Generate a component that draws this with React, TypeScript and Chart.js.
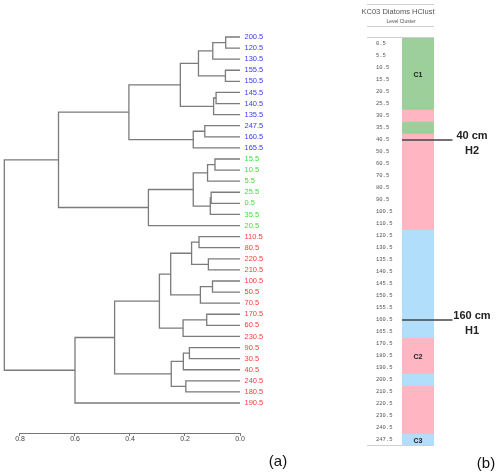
import { useEffect, useRef } from 'react';
import { Chart, registerables } from 'chart.js';

Chart.register(...registerables);

// ---- Dendrogram (a) ----
const leafLabels = ['200.5', '120.5', '130.5', '155.5', '150.5', '145.5', '140.5', '135.5', '247.5', '160.5', '165.5',
  '15.5', '10.5', '5.5', '25.5', '0.5', '35.5', '20.5',
  '110.5', '80.5', '220.5', '210.5', '100.5', '50.5', '70.5', '170.5', '60.5', '230.5', '90.5', '30.5', '40.5', '240.5', '180.5', '190.5'];
// cluster of each leaf: 1 = C1 (green), 2 = C2 (red/pink), 3 = C3 (blue)
const leafCluster = [3, 3, 3, 3, 3, 3, 3, 3, 3, 3, 3,
  1, 1, 1, 1, 1, 1, 1,
  2, 2, 2, 2, 2, 2, 2, 2, 2, 2, 2, 2, 2, 2, 2, 2];
// hclust-style merge table: negative = leaf (1-based position in leafLabels), positive = earlier merge (1-based)
const mergeLeft = [-1, 1, -4, 2, -6, 5, 4, -9, 8, 7, -12, 11, -15, 13, 12, 15, 10, -19, -21, 18, -23, 21, 20, -26, 24, 23, -29, 27, -32, 28, 26, 31, 17];
const mergeRight = [-2, -3, -5, 3, -7, -8, 6, -10, -11, 9, -13, -14, -16, -17, 14, -18, 16, -20, -22, 19, -24, -25, 22, -27, -28, 25, -30, -31, -33, 29, 30, -34, 32];
const mergeHeight = [0.052, 0.099, 0.053, 0.151, 0.087, 0.096, 0.217, 0.128, 0.170, 0.404, 0.091, 0.118, 0.105, 0.108, 0.170, 0.333, 0.660,
  0.149, 0.115, 0.176, 0.100, 0.144, 0.252, 0.121, 0.207, 0.293, 0.184, 0.206, 0.197, 0.250, 0.456, 0.600, 0.857];
const heightTicks = [0, 0.2, 0.4, 0.6, 0.8];

// ---- Cluster column (b) ----
const depthLabels = ['0.5', '5.5', '10.5', '15.5', '20.5', '25.5', '30.5', '35.5', '40.5', '50.5', '60.5', '70.5', '80.5', '90.5',
  '100.5', '110.5', '120.5', '130.5', '135.5', '140.5', '145.5', '150.5', '155.5', '160.5', '165.5', '170.5', '180.5', '190.5',
  '200.5', '210.5', '220.5', '230.5', '240.5', '247.5'];
const clusterNames = ['C1', 'C2', 'C3'];
const clusterLabelFrom = ['0.5', '170.5', '247.5'];
const clusterLabelTo = ['25.5', '190.5', '247.5'];
const markerDepths = ['40.5', '160.5'];
const markerTexts = ['40 cm', '160 cm'];
const markerCodes = ['H2', 'H1'];
const panelTitle = 'KC03 Diatoms HClust';
const panelSubtitle = 'Level Cluster';

const labelColor: Record<number, string> = { 1: '#3ddf3d', 2: '#ff3b3b', 3: '#3b3bff' };
const fillColor: Record<number, string> = { 1: '#9dcf9b', 2: '#ffb5c2', 3: '#b1dffb' };

function buildSegments() {
  const mid: number[] = [];
  const pos = (id: number) => (id < 0 ? { x: 0, y: -id - 1 } : { x: mergeHeight[id - 1], y: mid[id - 1] });
  const segs: { x: number; y: number }[][] = [];
  for (let i = 0; i < mergeHeight.length; i++) {
    const a = pos(mergeLeft[i]);
    const b = pos(mergeRight[i]);
    const h = mergeHeight[i];
    mid.push((a.y + b.y) / 2);
    segs.push([
      { x: a.x, y: a.y },
      { x: h, y: a.y },
      { x: h, y: b.y },
      { x: b.x, y: b.y },
    ]);
  }
  return segs;
}

function clusterOfDepth(d: string) {
  const i = leafLabels.indexOf(d);
  return i >= 0 ? leafCluster[i] : 2;
}

export default function App() {
  const leftRef = useRef<HTMLCanvasElement>(null);
  const rightRef = useRef<HTMLCanvasElement>(null);

  useEffect(() => {
    const axisLine = {
      id: 'axisLine',
      afterDraw(chart: any) {
        const xs = chart.scales.x;
        const ctx = chart.ctx;
        const y = chart.chartArea.bottom + 0.5;
        ctx.save();
        ctx.strokeStyle = '#777';
        ctx.lineWidth = 1;
        ctx.beginPath();
        ctx.moveTo(xs.getPixelForValue(heightTicks[heightTicks.length - 1]), y);
        ctx.lineTo(xs.getPixelForValue(heightTicks[0]), y);
        ctx.stroke();
        ctx.restore();
      },
    };

    const segs = buildSegments();
    const left = new Chart(leftRef.current!, {
      type: 'scatter',
      data: {
        datasets: segs.map((pts) => ({
          data: pts,
          showLine: true,
          borderColor: '#7b7b7b',
          borderWidth: 1.3,
          pointRadius: 0,
          pointHoverRadius: 0,
          tension: 0,
          fill: false,
          clip: false as any,
        })),
      },
      options: {
        responsive: false,
        animation: false,
        events: [],
        layout: { padding: { top: 10, left: 0, right: 0, bottom: 27 } },
        plugins: { legend: { display: false }, tooltip: { enabled: false } },
        scales: {
          x: {
            type: 'linear',
            reverse: true,
            min: 0,
            max: 0.8727,
            bounds: 'data',
            grid: { display: true, drawOnChartArea: false, drawTicks: true, tickLength: 3, color: '#777', lineWidth: 1 },
            border: { display: false },
            ticks: {
              font: { family: 'Liberation Sans', size: 7 },
              color: '#444',
              padding: -1,
              maxRotation: 0,
              autoSkip: false,
              callback: (v: any) => Number(v).toFixed(1),
            },
            afterBuildTicks: (s: any) => {
              s.ticks = heightTicks.map((v) => ({ value: v }));
            },
            afterFit: (s: any) => {
              s.height = 14;
            },
          },
          y: {
            type: 'linear',
            position: 'right',
            reverse: true,
            min: -2.434,
            max: 35.705,
            bounds: 'data',
            grid: { display: false, drawTicks: false, tickLength: 0 },
            border: { display: false },
            ticks: {
              autoSkip: false,
              padding: 4.5,
              font: { family: 'Liberation Sans', size: 7.5 },
              color: (c: any) => (c.tick ? labelColor[leafCluster[Math.round(c.tick.value)]] || '#000' : '#000'),
              callback: (v: any) => leafLabels[Math.round(Number(v))] ?? '',
            },
            afterBuildTicks: (s: any) => {
              s.ticks = leafLabels.map((_, i) => ({ value: i }));
            },
            afterFit: (s: any) => {
              s.width = 40;
            },
          },
        },
      } as any,
      plugins: [axisLine],
    });

    const panel = {
      id: 'panelDeco',
      afterDraw(chart: any) {
        const ctx = chart.ctx;
        const ys = chart.scales.y;
        const area = chart.chartArea;
        ctx.save();
        // table rules
        ctx.strokeStyle = '#cfcfcf';
        ctx.lineWidth = 1;
        const rules = [4.5, 26.5, area.top - 0.5, area.bottom - 0.5];
        rules.forEach((y) => {
          ctx.beginPath();
          ctx.moveTo(37, y);
          ctx.lineTo(area.right, y);
          ctx.stroke();
        });
        // title
        ctx.fillStyle = '#555';
        ctx.textAlign = 'center';
        ctx.textBaseline = 'middle';
        ctx.font = '7.5px "Liberation Sans"';
        ctx.fillText(panelTitle, 68, 12);
        ctx.font = '5px "Liberation Sans"';
        ctx.fillText(panelSubtitle, 71, 22);
        // cluster labels
        ctx.fillStyle = '#1a1a1a';
        ctx.font = 'bold 7px "Liberation Sans"';
        const cx = (area.left + area.right) / 2;
        clusterNames.forEach((n, i) => {
          const y0 = ys.getPixelForValue(depthLabels.indexOf(clusterLabelFrom[i]));
          const y1 = ys.getPixelForValue(depthLabels.indexOf(clusterLabelTo[i]));
          ctx.fillText(n, cx, (y0 + y1) / 2 + 1.5);
        });
        // horizon markers
        markerDepths.forEach((d, i) => {
          const y = ys.getPixelForValue(depthLabels.indexOf(d));
          ctx.strokeStyle = '#444';
          ctx.lineWidth = 1.3;
          ctx.beginPath();
          ctx.moveTo(area.left, y);
          ctx.lineTo(area.right + 18.5, y);
          ctx.stroke();
          ctx.fillStyle = '#222';
          ctx.font = 'bold 11px "Liberation Sans"';
          ctx.fillText(markerTexts[i], 142, y - 4.5);
          ctx.fillText(markerCodes[i], 142, y + 10.5);
        });
        ctx.restore();
      },
    };

    const right = new Chart(rightRef.current!, {
      type: 'bar',
      data: {
        labels: depthLabels,
        datasets: [
          {
            data: depthLabels.map(() => 1),
            backgroundColor: depthLabels.map((d) => fillColor[clusterOfDepth(d)]),
            borderWidth: 0,
            barPercentage: 1,
            categoryPercentage: 1,
          },
        ],
      },
      options: {
        indexAxis: 'y',
        responsive: false,
        animation: false,
        events: [],
        layout: { padding: { top: 38, left: 46, right: 66, bottom: 28 } },
        plugins: { legend: { display: false }, tooltip: { enabled: false } },
        scales: {
          x: { display: false, min: 0, max: 1 },
          y: {
            grid: { display: false, drawTicks: false },
            border: { display: false },
            ticks: {
              autoSkip: false,
              crossAlign: 'far',
              padding: 0,
              font: { family: 'Liberation Mono', size: 5.5 },
              color: '#555',
            },
            afterFit: (s: any) => {
              s.width = 26;
            },
          },
        },
      } as any,
      plugins: [panel],
    });

    return () => {
      left.destroy();
      right.destroy();
    };
  }, []);

  return (
    <div style={{ position: 'absolute', left: 0, top: 0, width: 500, height: 474, background: '#fff', overflow: 'hidden' }}>
      <canvas ref={leftRef} width={280} height={474} style={{ position: 'absolute', left: 0, top: 0 }} />
      <canvas ref={rightRef} width={170} height={474} style={{ position: 'absolute', left: 330, top: 0 }} />
      <div
        style={{
          position: 'absolute',
          left: 278,
          top: 460,
          transform: 'translate(-50%, -50%)',
          font: '15px "Liberation Sans", Arial, sans-serif',
          lineHeight: 1,
          color: '#111',
        }}
      >
        (a)
      </div>
      <div
        style={{
          position: 'absolute',
          left: 486,
          top: 461.5,
          transform: 'translate(-50%, -50%)',
          font: '15px "Liberation Sans", Arial, sans-serif',
          lineHeight: 1,
          color: '#111',
        }}
      >
        (b)
      </div>
    </div>
  );
}
